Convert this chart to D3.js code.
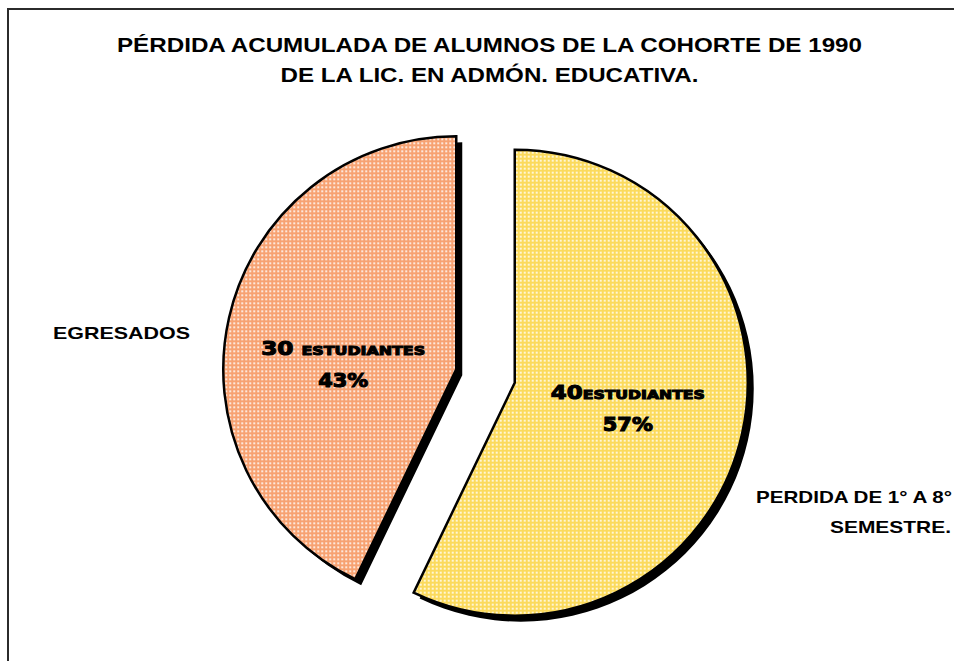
<!DOCTYPE html>
<html>
<head>
<meta charset="utf-8">
<script src="https://cdn.jsdelivr.net/npm/d3@7"></script>
<style>
  html, body { margin: 0; padding: 0; background: #fff; }
  svg { display: block; }
</style>
</head>
<body>
<div id="chart"></div>
<script>
// ---- data ----
const categories = ["PERDIDA DE 1° A 8° SEMESTRE.", "EGRESADOS"];
const values = [40, 30];
const percentLabels = ["57%", "43%"];
const countLabels = ["40", "30 "];
const unitLabel = "ESTUDIANTES";
const titleLines = [
  "PÉRDIDA ACUMULADA DE ALUMNOS DE LA COHORTE DE 1990",
  "DE LA LIC. EN ADMÓN. EDUCATIVA."
];
const catLines = ["PERDIDA DE 1° A 8°", "SEMESTRE."];

// ---- layout / style ----
const W = 954, H = 661;
const cx = 485.5, cy = 376, R = 233, explode = 30;
const baseColors = ["#FBDA5C", "#F7A272"];
const labelDy = [0, 20];
const labelWidths = [154, 164];
const titleWidths = [745, 418];

const svg = d3.select("#chart").append("svg")
  .attr("width", W).attr("height", H);

const defs = svg.append("defs");
baseColors.forEach((c, i) => {
  const p = defs.append("pattern")
    .attr("id", "pat" + i)
    .attr("patternUnits", "userSpaceOnUse")
    .attr("width", 4).attr("height", 4);
  p.append("rect").attr("width", 4).attr("height", 4).attr("fill", c);
  p.append("rect").attr("x", 1).attr("y", 1).attr("width", 2).attr("height", 2).attr("fill", "#fff").attr("opacity", 0.75);
});

// frame (top and left lines visible)
svg.append("path")
  .attr("d", `M8,${H + 5} L8,9 L${W + 5},9`)
  .attr("fill", "none").attr("stroke", "#2b2b2b").attr("stroke-width", 2);

// title
svg.append("g").selectAll("text").data(titleLines).join("text")
  .attr("x", 489.5)
  .attr("y", (d, i) => 52 + i * 30)
  .attr("text-anchor", "middle")
  .attr("font-family", "Liberation Sans, Arial, sans-serif")
  .attr("font-weight", "bold")
  .attr("font-size", 20)
  .attr("fill", "#000")
  .attr("textLength", (d, i) => titleWidths[i])
  .attr("lengthAdjust", "spacingAndGlyphs")
  .text(d => d);

const pie = d3.pie().sort(null).startAngle(0).endAngle(2 * Math.PI)(values);
const arc = d3.arc().innerRadius(0).outerRadius(R);

const offset = d => {
  const a = (d.startAngle + d.endAngle) / 2;
  return [Math.sin(a) * explode, -Math.cos(a) * explode];
};

// shadows
svg.append("g").selectAll("path").data(pie).join("path")
  .attr("transform", d => { const o = offset(d); return `translate(${cx + o[0] + 6},${cy + o[1] + 6})`; })
  .attr("d", arc)
  .attr("fill", "#000");

// slices
svg.append("g").selectAll("path").data(pie).join("path")
  .attr("transform", d => { const o = offset(d); return `translate(${cx + o[0]},${cy + o[1]})`; })
  .attr("d", arc)
  .attr("fill", (d, i) => `url(#pat${i})`)
  .attr("stroke", "#000")
  .attr("stroke-width", 2.5)
  .attr("stroke-linejoin", "miter");

// data labels
const labelArc = d3.arc().innerRadius(116).outerRadius(116);
const lg = svg.append("g");
pie.forEach((d, i) => {
  const o = offset(d);
  const c = labelArc.centroid(d);
  const x = cx + o[0] + c[0];
  const y = cy + o[1] + c[1] + labelDy[i];
  const t1 = lg.append("text")
    .attr("x", x).attr("y", y - 9)
    .attr("text-anchor", "middle")
    .attr("font-family", "'Arial Black', 'DejaVu Sans', sans-serif")
    .attr("font-weight", "bold")
    .attr("fill", "#000").attr("stroke", "#000").attr("stroke-width", 1.1)
    .attr("textLength", labelWidths[i])
    .attr("lengthAdjust", "spacingAndGlyphs");
  t1.append("tspan").attr("font-size", 19).text(countLabels[i]);
  t1.append("tspan").attr("font-size", 13).text(unitLabel);
  lg.append("text")
    .attr("x", x).attr("y", y + 23)
    .attr("text-anchor", "middle")
    .attr("font-family", "'Arial Black', 'DejaVu Sans', sans-serif")
    .attr("font-weight", "bold")
    .attr("font-size", 19)
    .attr("fill", "#000").attr("stroke", "#000").attr("stroke-width", 1.1)
    .attr("textLength", 50)
    .attr("lengthAdjust", "spacingAndGlyphs")
    .text(percentLabels[i]);
});

// category labels
const catFont = "Liberation Sans, Arial, sans-serif";
svg.append("text")
  .attr("x", 53).attr("y", 339)
  .attr("font-family", catFont).attr("font-weight", "bold").attr("font-size", 17)
  .attr("textLength", 137).attr("lengthAdjust", "spacingAndGlyphs")
  .text(categories[1]);
const catWidths = [196, 121];
svg.append("g").selectAll("text").data(catLines).join("text")
  .attr("x", (d, i) => i === 0 ? 952 : 951)
  .attr("y", (d, i) => 503 + i * 30)
  .attr("text-anchor", "end")
  .attr("font-family", catFont).attr("font-weight", "bold").attr("font-size", 17)
  .attr("textLength", (d, i) => catWidths[i]).attr("lengthAdjust", "spacingAndGlyphs")
  .text(d => d);
</script>
</body>
</html>
